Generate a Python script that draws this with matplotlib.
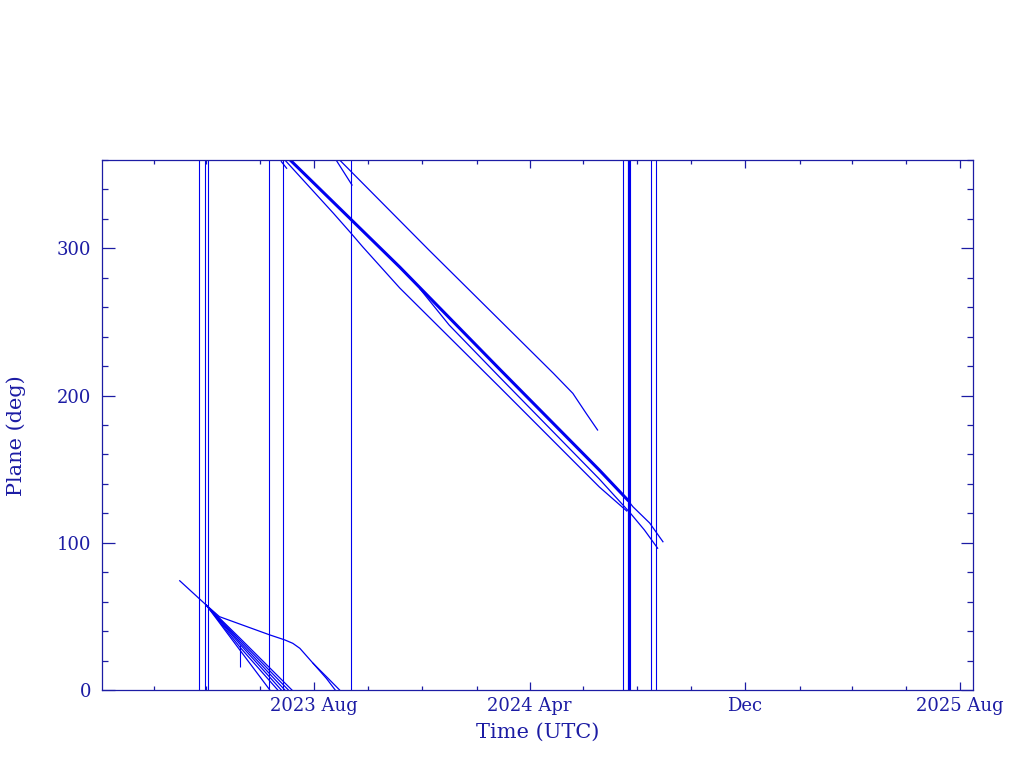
import numpy as np
import matplotlib
matplotlib.use('Agg')
import matplotlib.pyplot as plt
import matplotlib.dates as mdates

# --------------------------
# 1. data (date, plane angle in deg)
# --------------------------
# full-height vertical segments (wrap / track joins)
vline_dates = ['2023-03-24', '2023-03-31', '2023-04-03', '2023-06-11', '2023-06-27',
               '2023-09-12', '2024-07-16', '2024-07-21', '2024-07-22', '2024-07-23',
               '2024-07-24', '2024-08-17', '2024-08-22']

# lower-left group
l0_dates = ['2023-03-02', '2023-04-01']
l0_deg = [74.2, 57.7]

fan_start = ('2023-04-01', 57.7)
fan_mid_date = '2023-05-09'
fan_mid_deg = [27.2, 29.2, 31.2, 32.6, 34.0, 35.3]
fan_end_dates = ['2023-06-12', '2023-06-21', '2023-06-25', '2023-06-29', '2023-07-03', '2023-07-07']

l1_dates = ['2023-04-01', '2023-04-16', '2023-06-12', '2023-06-29', '2023-07-08',
            '2023-07-16', '2023-07-31', '2023-08-15', '2023-08-25']
l1_deg = [57.7, 49.8, 37.4, 34.0, 31.7, 28.3, 18.1, 7.9, 0.0]

l1b_dates = ['2023-07-31', '2023-08-16', '2023-08-30']
l1b_deg = [18.1, 8.5, 0.0]

stub_date = '2023-05-09'
stub_deg = [30.8, 15.8]

# upper group (after the 0/360 wrap)
a_dates = ['2023-07-05', '2023-11-06', '2024-02-27', '2024-06-19', '2024-07-21',
           '2024-07-27', '2024-08-15', '2024-08-30']
a_deg = [360.0, 287.3, 218.0, 149.4, 129.1, 124.5, 113.4, 100.7]

s_dates = ['2023-11-29', '2024-01-01', '2024-02-27', '2024-06-19', '2024-07-24',
           '2024-08-09', '2024-08-24']
s_deg = [272.4, 247.9, 212.6, 143.3, 120.2, 108.7, 96.3]

b_dates = ['2023-06-29', '2023-08-23', '2023-09-12', '2023-09-25', '2023-11-06',
           '2024-02-27', '2024-06-19', '2024-07-20']
b_deg = [360.0, 323.8, 310.2, 301.1, 273.1, 205.8, 137.9, 121.6]

c_dates = ['2023-06-25', '2023-07-01']
c_deg = [358.9, 354.4]

d_dates = ['2023-08-26', '2023-09-13']
d_deg = [360.0, 343.0]

e_dates = ['2023-08-30', '2023-12-09', '2024-04-28', '2024-05-20', '2024-06-04', '2024-06-17']
e_deg = [360.0, 298.9, 215.1, 201.5, 188.0, 176.6]

# axis ticks
major_dates = ['2023-08-01', '2024-04-01', '2024-12-01', '2025-08-01']
major_labels = ['2023 Aug', '2024 Apr', 'Dec', '2025 Aug']
x_range = ['2022-12-04', '2025-08-16']


def d(v):
    return np.array(v, dtype='datetime64[D]')


# --------------------------
# 2. plot
# --------------------------
frame_col = '#1c1ca4'
line_col = '#0000f0'

plt.rcParams['font.family'] = ['DejaVu Serif']
fig = plt.figure(figsize=(10.24, 7.68), dpi=100)
ax = fig.add_axes([102 / 1024, 1 - 690 / 768, 871 / 1024, 530 / 768])

ax.vlines(d(vline_dates), 0, 360, color=line_col, lw=0.8)

ax.plot(d(l0_dates), l0_deg, color=line_col, lw=0.9)
for md, ed in zip(fan_mid_deg, fan_end_dates):
    ax.plot(d([fan_start[0], fan_mid_date, ed]), [fan_start[1], md, 0.0], color=line_col, lw=0.9)
ax.plot(d(l1_dates), l1_deg, color=line_col, lw=0.9)
ax.plot(d(l1b_dates), l1b_deg, color=line_col, lw=0.9)
ax.vlines(d([stub_date]), stub_deg[1], stub_deg[0], color=line_col, lw=0.8)

ax.plot(d(a_dates), a_deg, color=line_col, lw=0.9)
ax.plot(d(a_dates[:5]), a_deg[:5], color=line_col, lw=2.2)
ax.plot(d(s_dates), s_deg, color=line_col, lw=0.9)
ax.plot(d(b_dates), b_deg, color=line_col, lw=0.9)
for xs, ys in [(c_dates, c_deg), (d_dates, d_deg), (e_dates, e_deg)]:
    ax.plot(d(xs), ys, color=line_col, lw=0.9)

ax.set_xlim(d(x_range))
ax.set_ylim(0, 360)

ax.set_xticks(d(major_dates))
ax.set_xticklabels(major_labels)
ax.xaxis.set_minor_locator(mdates.MonthLocator(bymonth=[2, 4, 6, 8, 10, 12]))
ax.set_yticks([0, 100, 200, 300])
ax.yaxis.set_minor_locator(plt.MultipleLocator(20))

ax.tick_params(axis='both', which='both', direction='in', top=True, right=True,
               colors=frame_col, labelsize=13, width=0.9)
ax.tick_params(axis='x', which='major', length=6, pad=5)
ax.tick_params(axis='x', which='minor', length=3)
ax.tick_params(axis='y', which='major', length=9, pad=8)
ax.tick_params(axis='y', which='minor', length=4.5)
for sp in ax.spines.values():
    sp.set_color(frame_col)
    sp.set_linewidth(0.9)

fig.text(538 / 1024, 1 - 732 / 768, 'Time (UTC)', ha='center', va='center',
         fontsize=15, color=frame_col)
fig.text(16 / 1024, 1 - 436 / 768, 'Plane (deg)', ha='center', va='center',
         rotation=90, fontsize=15, color=frame_col)

fig.savefig('out.png', dpi=100)
